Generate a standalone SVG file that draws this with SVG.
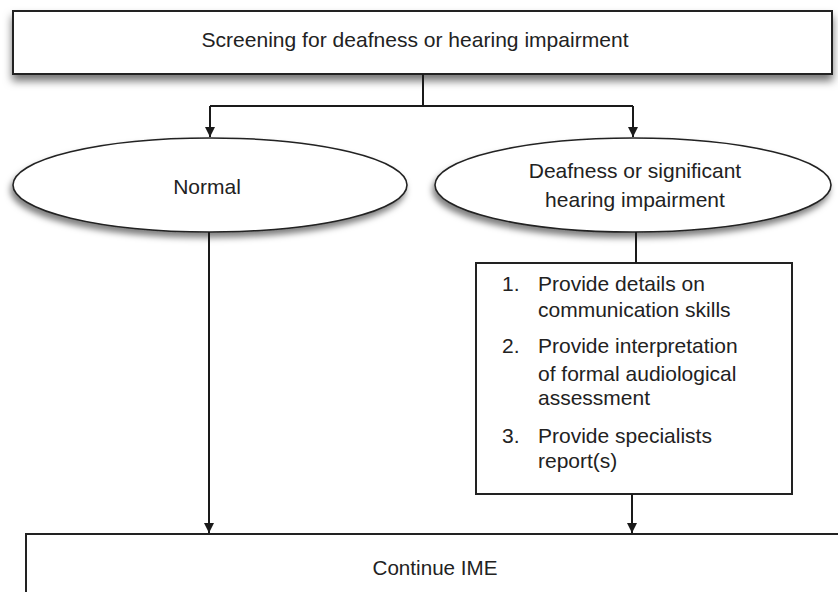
<svg xmlns="http://www.w3.org/2000/svg" width="838" height="592" viewBox="0 0 838 592">
<defs>
<filter id="sh" x="-10%" y="-20%" width="120%" height="160%">
<feDropShadow dx="0" dy="6" stdDeviation="4" flood-color="#000" flood-opacity="0.55"/>
</filter>
<filter id="esh" x="-10%" y="-20%" width="120%" height="160%">
<feDropShadow dx="-2" dy="5" stdDeviation="3" flood-color="#000" flood-opacity="0.5"/>
</filter>
<marker id="arr" viewBox="0 0 10 10" refX="10" refY="5" markerWidth="10" markerHeight="10" markerUnits="userSpaceOnUse" orient="auto">
<path d="M0,0 L10,5 L0,10 Z" fill="#1a1a1a"/>
</marker>
</defs>
<style>
text{font-family:"Liberation Sans",Arial,sans-serif;font-size:21px;fill:#222}
.c{text-anchor:middle}
.box{fill:#fff;stroke:#222;stroke-width:2}
.ell{fill:#fff;stroke:#222;stroke-width:1.6}
.ln{fill:none;stroke:#1a1a1a;stroke-width:2}
</style>
<rect width="838" height="592" fill="#fff"/>
<g id="screening">
<rect class="box" x="13" y="11" width="819" height="63" filter="url(#sh)"/>
<text class="c" x="415" y="47" font-size="19" textLength="427" lengthAdjust="spacingAndGlyphs">Screening for deafness or hearing impairment</text>
</g>
<g id="normal">
<ellipse class="ell" cx="210" cy="185" rx="197" ry="47" filter="url(#esh)"/>
<text class="c" x="207" y="194">Normal</text>
</g>
<g id="deafness">
<ellipse class="ell" cx="633" cy="185" rx="198" ry="47" filter="url(#esh)"/>
<text class="c" x="635" y="178">Deafness or significant</text>
<text class="c" x="635" y="207">hearing impairment</text>
</g>
<g id="steps">
<rect class="box" x="476" y="263" width="316" height="231" stroke-width="1.6"/>
<text x="502" y="291">1.</text><text x="538" y="291">Provide details on</text>
<text x="538" y="317">communication skills</text>
<text x="502" y="353">2.</text><text x="538" y="353">Provide interpretation</text>
<text x="538" y="381">of formal audiological</text>
<text x="538" y="405">assessment</text>
<text x="502" y="443">3.</text><text x="538" y="443">Provide specialists</text>
<text x="538" y="468">report(s)</text>
</g>
<g id="continue">
<rect class="box" x="26" y="534" width="830" height="80" stroke-width="2.5"/>
<text class="c" x="435" y="575" font-size="18" textLength="125" lengthAdjust="spacingAndGlyphs">Continue IME</text>
</g>
<g id="connectors">
<path class="ln" d="M423,74 V106"/>
<path class="ln" d="M210,106 H633"/>
<path class="ln" d="M210,106 V137" marker-end="url(#arr)"/>
<path class="ln" d="M633,106 V137" marker-end="url(#arr)"/>
<path class="ln" d="M636,232 V263"/>
<path class="ln" d="M209,232 V533" marker-end="url(#arr)"/>
<path class="ln" d="M632,494 V533" marker-end="url(#arr)"/>
</g>
</svg>
